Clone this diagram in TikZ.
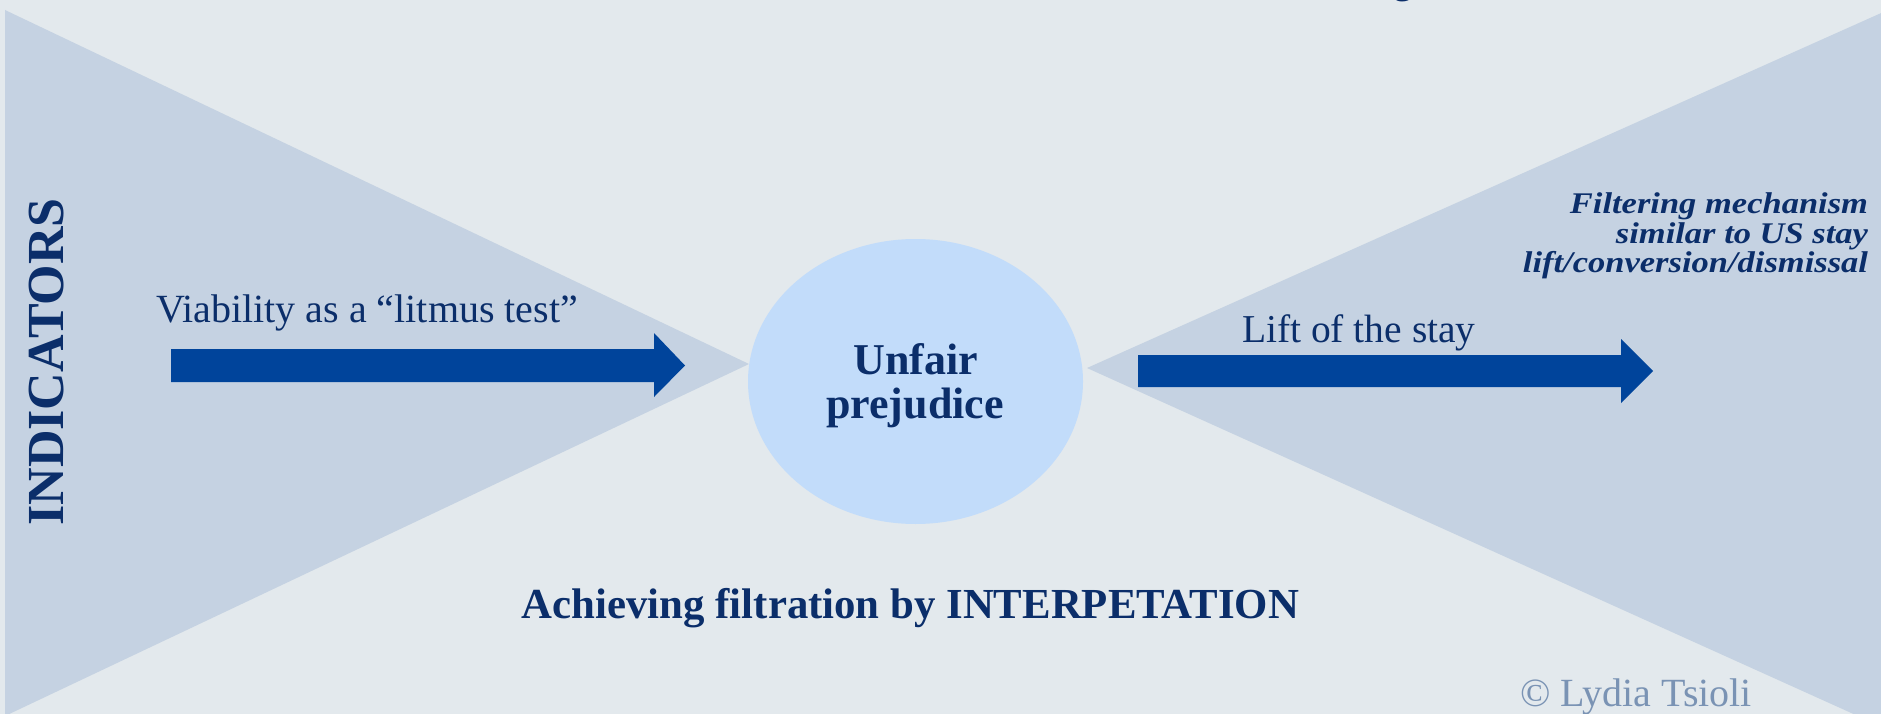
\documentclass[tikz,border=0pt]{standalone}
\usepackage{fontspec}
\usetikzlibrary{shapes.geometric}
\setmainfont{Liberation Serif}
\newfontfamily\wideserif[FakeStretch=1.15]{Liberation Serif}
\definecolor{bgc}{HTML}{E3E9ED}
\definecolor{tric}{HTML}{C5D2E2}
\definecolor{ellc}{HTML}{C2DCFA}
\definecolor{arrc}{HTML}{00449B}
\definecolor{navy}{HTML}{0B2E6A}
\definecolor{copyc}{HTML}{7A93B4}
\tikzset{
  lbl/.style={inner sep=0pt, outer sep=0pt, text=navy},
  regtext/.style={lbl, font=\fontsize{40}{44}\selectfont},
  boldtext/.style={lbl, font=\fontsize{44}{44}\selectfont\bfseries},
  smallbi/.style={lbl, font=\wideserif\fontsize{30}{29}\selectfont\bfseries\itshape},
  blockarrow/.style={fill=arrc, draw=none},
  funnel/.style={fill=tric, draw=none}
}
\begin{document}
\begin{tikzpicture}[x=1pt,y=-1pt]
\useasboundingbox (0,0) rectangle (1881,714);
\clip (0,0) rectangle (1881,714);
\fill[bgc] (0,0) rectangle (1881,714);
% funnels
\fill[funnel] (5,10) -- (749,364) -- (5,716) -- cycle;
\fill[funnel] (1087,368) -- (1900,4.6) -- (1900,735) -- cycle;
% ellipse
\node[ellipse, fill=ellc, draw=none, minimum width=335pt, minimum height=285pt, inner sep=0pt] (ell) at (915.5,381.5) {};
% block arrows
\fill[blockarrow] (171,349) -- (654,349) -- (654,333) -- (685,365.5) -- (654,397) -- (654,382) -- (171,382) -- cycle;
\fill[blockarrow] (1138,355) -- (1621,355) -- (1621,339) -- (1653,371) -- (1621,403) -- (1621,387) -- (1138,387) -- cycle;
% texts
\node[lbl, font=\fontsize{39}{44}\selectfont, anchor=base] (topg) at (1403,-6) {g};
\node[lbl, font=\fontsize{52}{56}\selectfont\bfseries, rotate=90, anchor=base] (ind) at (63,362) {INDICATORS};
\node[regtext, anchor=base west] (via) at (156,322) {Viability as a “litmus test”};
\node[lbl, font=\fontsize{39.5}{44}\selectfont, anchor=base west] (lift) at (1242,342) {Lift of the stay};
\node[boldtext, anchor=base] (unf) at (916,374) {Unfair};
\node[boldtext, anchor=base] (prej) at (915,418) {prejudice};
\node[lbl, font=\fontsize{42.8}{44}\selectfont\bfseries, anchor=base] (ach) at (910.5,618) {Achieving filtration by INTERPETATION};
\node[smallbi, anchor=base east] (f1) at (1868,214) {Filtering mechanism};
\node[smallbi, anchor=base east] (f2) at (1868,243) {similar to US stay};
\node[smallbi, anchor=base east] (f3) at (1868,272) {lift/conversion/dismissal};
\node[lbl, text=copyc, font=\fontsize{40}{44}\selectfont, anchor=base west] (copy) at (1520,706) {© Lydia Tsioli};
\end{tikzpicture}
\end{document}
